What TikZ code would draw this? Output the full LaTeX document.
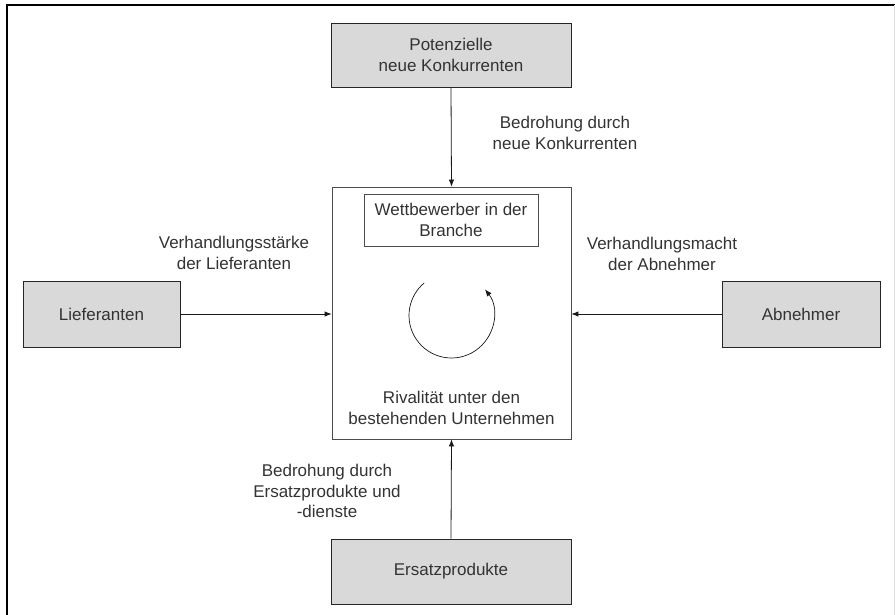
\documentclass[tikz,border=0pt]{standalone}
\usepackage{fontspec}
\setmainfont{Liberation Sans}
\usetikzlibrary{arrows.meta}
\begin{document}
\begin{tikzpicture}[x=1pt,y=-1pt,
  txt/.style={font=\fontsize{17}{20.5}\selectfont, text=black!80, align=center},
  force/.style={txt, draw=black!85, fill=black!15, line width=0.9pt, inner sep=0pt},
  plainbox/.style={txt, draw=black!70, line width=0.8pt, inner sep=0pt},
  arr/.style={-{Latex[length=7pt,width=5.5pt]}, line width=0.8pt, black!90}
]
\useasboundingbox (0,0) rectangle (895,615);

% outer frame
\draw[line width=2pt, black] (6.5,615) -- (6.5,5.3) -- (895,5.3);
\draw[line width=0.6pt, black!12] (894.5,5.3) -- (894.5,615);

% the five forces
\node[force, minimum width=240pt, minimum height=64pt] (neu) at (451,55) {Potenzielle\\neue Konkurrenten};
\node[force, minimum width=240pt, minimum height=65pt] (ersatz) at (451,571.5) {Ersatzprodukte};
\node[force, minimum width=157pt, minimum height=66pt] (lief) at (101.5,314) {Lieferanten};
\node[force, minimum width=158pt, minimum height=66pt] (abn) at (801,314) {Abnehmer};

% central rivalry box
\node[plainbox, minimum width=239pt, minimum height=252pt] (main) at (451.5,313) {};
\node[plainbox, minimum width=174pt, minimum height=52pt] (wett) at (451,220) {Wettbewerber in der\\Branche};
\node[txt] (riv) at (451.5,408) {Rivalität unter den\\bestehenden Unternehmen};

% rotating arrow
\coordinate (c) at (451.5,315.5);
\draw[arr, line width=0.7pt] ([shift={(-130:42.5)}]c) arc[start angle=-130, end angle=-398, radius=42.5];

% connectors
\draw[arr] (neu.south) -- (main.north);
\draw[arr] (ersatz.north) -- (main.south);
\draw[arr] (lief.east) -- (lief.east -| main.west);
\draw[arr] (abn.west) -- (abn.west -| main.east);

% connector labels
\node[txt] (lneu) at (565,133) {Bedrohung durch\\neue Konkurrenten};
\node[txt] (llief) at (234,253) {Verhandlungsstärke\\der Lieferanten};
\node[txt] (labn) at (662,254) {Verhandlungsmacht\\der Abnehmer};
\node[txt] (lersatz) at (327,491) {Bedrohung durch\\Ersatzprodukte und\\-dienste};
\end{tikzpicture}
\end{document}
